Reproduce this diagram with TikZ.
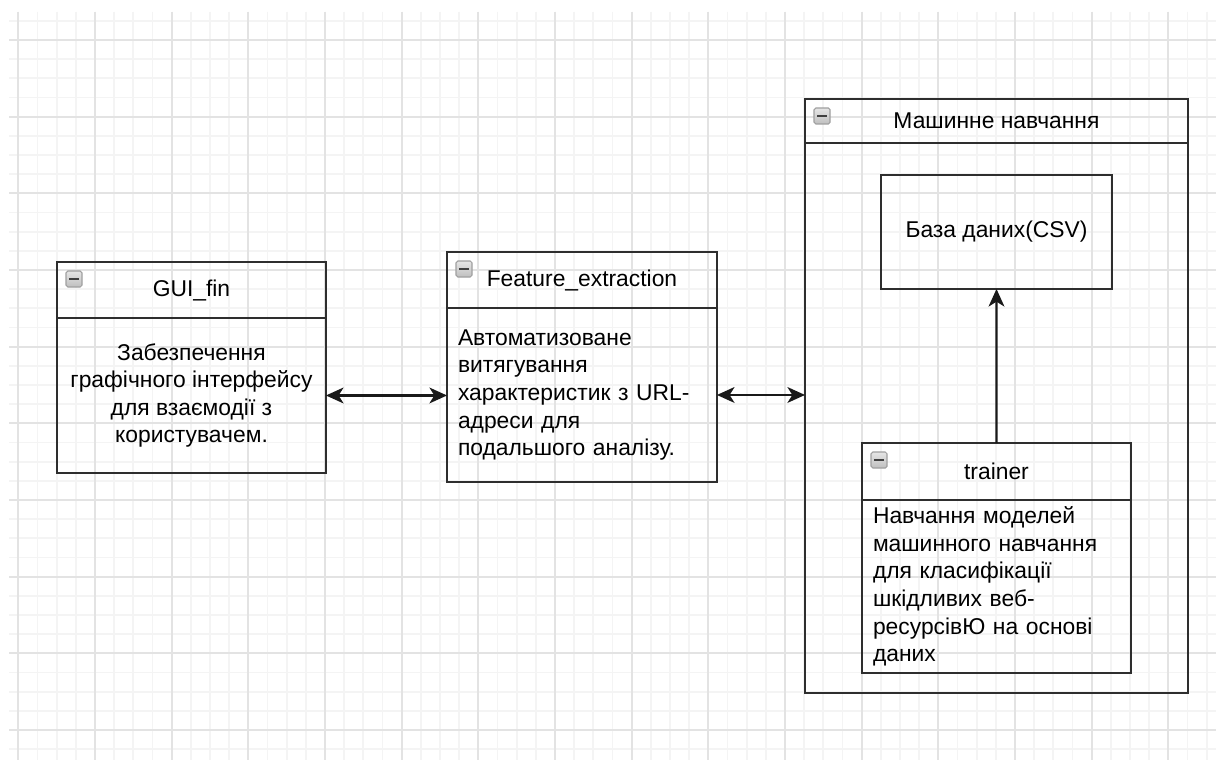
\documentclass[tikz,border=0pt]{standalone}
\usepackage{fontspec}
\setmainfont{Liberation Sans}
\usetikzlibrary{arrows.meta,positioning}

\begin{document}
\begin{tikzpicture}[x=0.02cm,y=-0.02cm,node distance=0pt,
    >={Stealth[length=10pt,width=9pt,inset=2.8pt]},
    every node/.style={font=\fontsize{13}{15.7}\selectfont},
    minorgrid/.style={gray!9,line width=1pt},
    majorgrid/.style={gray!22,line width=1pt},
    box/.style={rectangle,draw=black!82,line width=1.2pt,outer sep=0pt,
      inner sep=0pt,align=center},
    head/.style={box,minimum height=1.12cm},
    body/.style={box,inner xsep=0.22cm},
    link/.style={draw=black!90,line width=1.2pt},
    fold/.pic={
      \draw[gray!75,line width=0.6pt,rounded corners=1pt,top color=gray!20,
        bottom color=gray!50] (9,9) rectangle (25,25);
      \draw[black!75,line width=1.5pt] (12,17) -- (22,17);
    }]
\useasboundingbox (0,0) rectangle (1216,760);
\fill[white] (0,0) rectangle (1216,760);
\foreach \i in {0,...,62}
  \draw[minorgrid] ({18.3+19.167*\i},12) -- ({18.3+19.167*\i},760);
\foreach \j in {0,...,38}
  \draw[minorgrid] (9,{20.8+19.167*\j}) -- (1216,{20.8+19.167*\j});
\foreach \i in {0,...,15}
  \draw[majorgrid] ({18.3+76.67*\i},12) -- ({18.3+76.67*\i},760);
\foreach \j in {0,...,9}
  \draw[majorgrid] (9,{40+76.67*\j}) -- (1216,{40+76.67*\j});

\node[head,minimum width=5.38cm,anchor=north west] (guihead) at (57,262) {GUI\_fin};
\node[body,minimum width=5.38cm,minimum height=3.10cm,below=of guihead] (guibody)
  {Забезпечення\\графічного інтерфейсу\\для взаємодії з\\користувачем.};
\pic at (guihead.north west) {fold};

\node[head,minimum width=5.40cm,anchor=north west] (fehead) at (447,252) {Feature\_extraction};
\node[body,text width=4.96cm,minimum height=3.48cm,align=left,below=of fehead] (febody)
  {Автоматизоване\\витягування\\характеристик з URL-\\адреси для\\подальшого аналізу.};
\pic at (fehead.north west) {fold};

\node[head,minimum width=7.66cm,minimum height=0.88cm,anchor=north west] (mlhead) at (805,99) {Машинне навчання};
\node[body,minimum width=7.66cm,minimum height=11.0cm,below=of mlhead] (mlbody) {};
\pic at (mlhead.north west) {fold};

\node[box,minimum width=4.62cm,minimum height=2.28cm] (db) at (996.5,232) {База даних(CSV)};

\node[head,minimum width=5.38cm,minimum height=1.14cm,anchor=north west] (trhead) at (862,443) {trainer};
\node[body,text width=4.94cm,minimum height=3.46cm,align=left,below=of trhead] (trbody)
  {Навчання моделей\\машинного навчання\\для класифікації\\шкідливих веб-\\ресурсівЮ на основі\\даних};
\pic at (trhead.north west) {fold};

\draw[link,<->] (guibody.east) -- (guibody.east -| febody.west);
\draw[link,<->] (febody.east) -- (febody.east -| mlbody.west);
\draw[link,->] (trhead) -- (db);
\end{tikzpicture}
\end{document}
